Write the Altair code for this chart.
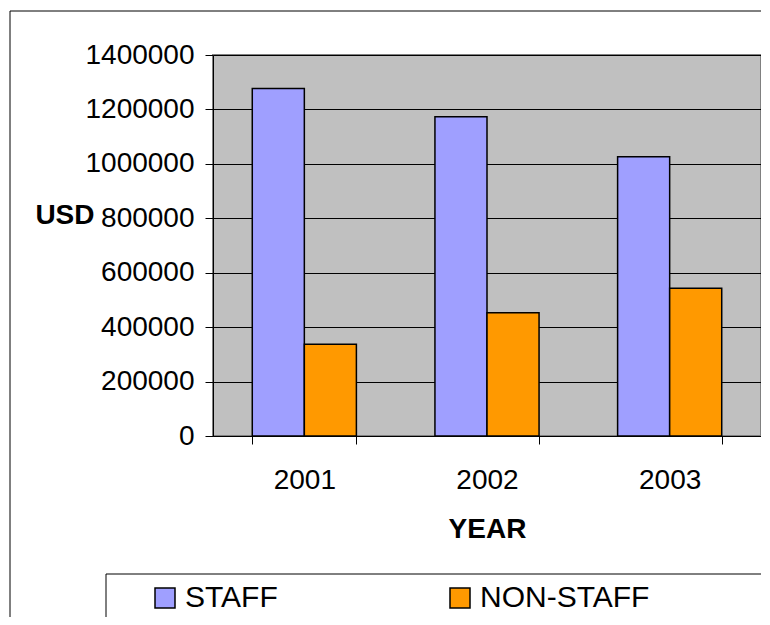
import altair as alt
import pandas as pd

years = ["2001", "2002", "2003"]
staff = [1277000, 1173000, 1026000]
non_staff = [337000, 453000, 543000]
series = ["STAFF", "NON-STAFF"]
colors = ["#9F9FFF", "#FF9900"]
y_ticks = [0, 200000, 400000, 600000, 800000, 1000000, 1200000, 1400000]

rows = []
for i, yr in enumerate(years):
    rows.append({"year": yr, "series": "STAFF", "value": staff[i]})
    rows.append({"year": yr, "series": "NON-STAFF", "value": non_staff[i]})
df = pd.DataFrame(rows)

FONT = "Liberation Sans"
W, H = 548, 381

bars = alt.Chart(df).mark_bar(stroke="black", strokeWidth=1.5).encode(
    x=alt.X("year:N", sort=years,
            scale=alt.Scale(paddingInner=0.43, paddingOuter=0.215),
            axis=alt.Axis(title="YEAR", labelAngle=0, labelFontSize=28, labelFont=FONT,
                          labelColor="black", tickBand="extent", tickSize=8,
                          tickColor="black", domainColor="black", labelPadding=22,
                          titleFont=FONT, titleFontSize=28, titleFontWeight="bold",
                          titleColor="black", titleY=101, titleBaseline="alphabetic")),
    xOffset=alt.XOffset("series:N", sort=series,
                        scale=alt.Scale(paddingInner=0, paddingOuter=0)),
    y=alt.Y("value:Q", scale=alt.Scale(domain=[0, 1400000], nice=False),
            axis=alt.Axis(title="USD", values=y_ticks, format="d", labelFontSize=28,
                          labelFont=FONT, labelColor="black", tickSize=8,
                          tickColor="black", domainColor="black", gridColor="black",
                          gridWidth=1, labelPadding=11, titleAngle=0,
                          titleFont=FONT, titleFontSize=28, titleFontWeight="bold",
                          titleColor="black", titleAlign="right", titleX=-119,
                          titleY=168, titleBaseline="alphabetic")),
    color=alt.Color("series:N", sort=series,
                    scale=alt.Scale(domain=series, range=colors),
                    legend=alt.Legend(title=None, orient="none", direction="horizontal",
                                      legendX=-63, legendY=528, symbolType="square",
                                      symbolSize=400, symbolStrokeColor="black",
                                      symbolStrokeWidth=1.5, labelFontSize=30,
                                      labelFont=FONT, labelColor="black", labelOffset=5,
                                      labelLimit=400, columnPadding=167, padding=0)),
)

frame_df = pd.DataFrame({"k": [0]})
outer = alt.Chart(frame_df).mark_rect(fill=None, stroke="black", strokeWidth=1).encode(
    x=alt.value(-203), x2=alt.value(W + 100), y=alt.value(-44), y2=alt.value(H + 300))
legend_box = alt.Chart(frame_df).mark_rect(fill=None, stroke="black", strokeWidth=1).encode(
    x=alt.value(-107), x2=alt.value(W + 100), y=alt.value(519), y2=alt.value(H + 300))

chart = alt.layer(outer, legend_box, bars).properties(
    width=W, height=H,
    autosize=alt.AutoSizeParams(type="none"),
    padding={"left": 205, "top": 47, "right": 0, "bottom": 181},
).configure_view(fill="#C0C0C0", stroke="#808080", strokeWidth=2)

chart.save("out.html", embed_options={"renderer": "svg", "actions": False})
